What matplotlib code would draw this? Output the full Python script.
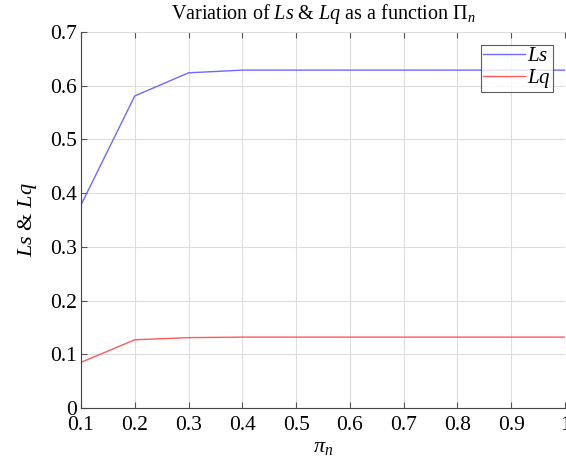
import matplotlib
matplotlib.use("Agg")
import matplotlib.pyplot as plt

# data
pi_n = [0.1, 0.2, 0.3, 0.4, 0.5, 0.6, 0.7, 0.8, 0.9, 1.0]
Ls = [0.378, 0.581, 0.624, 0.629, 0.629, 0.629, 0.629, 0.629, 0.629, 0.629]
Lq = [0.085, 0.127, 0.131, 0.132, 0.132, 0.132, 0.132, 0.132, 0.132, 0.132]
xticks = [0.1, 0.2, 0.3, 0.4, 0.5, 0.6, 0.7, 0.8, 0.9, 1]
xlabels = ["0.1", "0.2", "0.3", "0.4", "0.5", "0.6", "0.7", "0.8", "0.9", "1"]
yticks = [0, 0.1, 0.2, 0.3, 0.4, 0.5, 0.6, 0.7]
ylabels = ["0", "0.1", "0.2", "0.3", "0.4", "0.5", "0.6", "0.7"]

plt.rcParams['font.family'] = ['Liberation Serif', 'DejaVu Serif']
plt.rcParams['mathtext.fontset'] = 'custom'
plt.rcParams['mathtext.it'] = 'Liberation Serif:italic'
plt.rcParams['mathtext.rm'] = 'Liberation Serif'

fig = plt.figure(figsize=(5.66, 4.63), dpi=100)
ax = fig.add_axes([81 / 566, 55 / 463, 484 / 566, 376 / 463])

ax.plot(pi_n, Ls, color='#6b6bff', lw=1.0, label='$Ls$')
ax.plot(pi_n, Lq, color='#ff5a5a', lw=1.0, label='$Lq$')

ax.set_xlim(0.1, 1.0)
ax.set_ylim(0, 0.7)
ax.set_xticks(xticks)
ax.set_xticklabels(xlabels)
ax.set_yticks(yticks)
ax.set_yticklabels(ylabels)
ax.tick_params(direction='in', labelsize=15.5, length=4, color='#555555', top=True, right=False)
ax.tick_params(axis='y', pad=3)
ax.tick_params(axis='x', pad=6)
ax.grid(True, color='#dddddd', lw=0.8)
ax.spines['top'].set_visible(False)
ax.spines['right'].set_visible(False)
for s in ['left', 'bottom']:
    ax.spines[s].set_color('#444444')

ax.set_xlabel(r'$\pi_n$', fontsize=16, labelpad=2)
ax.set_ylabel(r'$Ls$ & $Lq$', fontsize=16, labelpad=8)
ax.set_title(r'Variation of $Ls$ & $Lq$ as a function $\Pi_n$', fontsize=14.5, pad=9)

leg = ax.legend(loc='upper right', fontsize=15, frameon=True, fancybox=False,
                handlelength=2.0, handletextpad=0.1, borderpad=0.1, labelspacing=0.05,
                borderaxespad=0.6)
leg.get_frame().set_edgecolor('#333333')
leg.get_frame().set_linewidth(0.8)

fig.savefig('out.png', dpi=100)
